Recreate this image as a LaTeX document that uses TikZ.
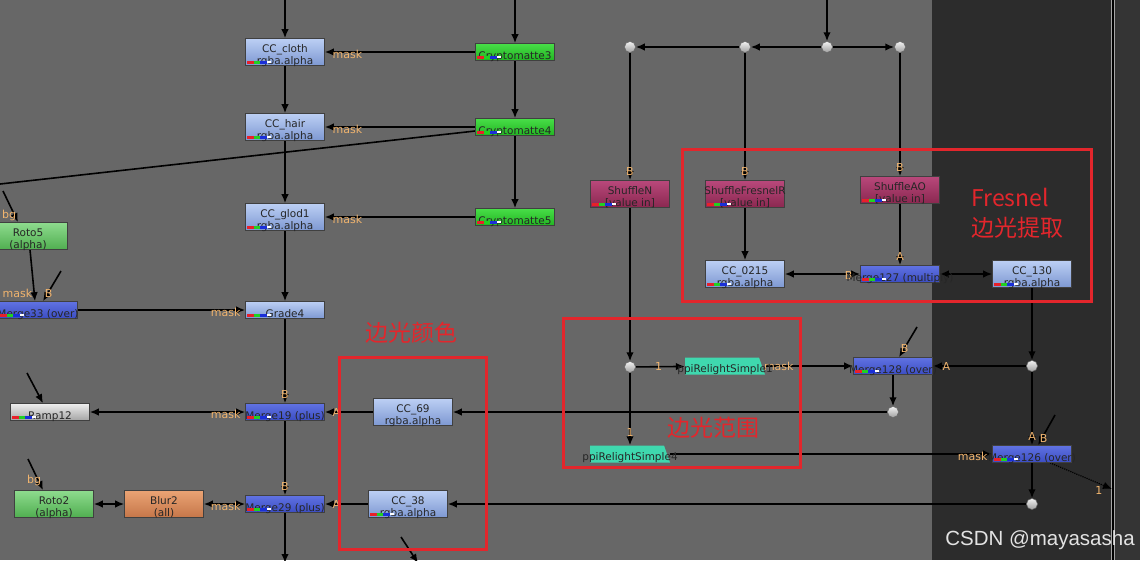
\documentclass[tikz,border=0pt]{standalone}
\usepackage{fontspec}
\setmainfont{DejaVu Sans}
\newfontfamily\cjkfont{Noto Sans CJK SC}
\newfontfamily\wmfont{Liberation Sans}
\usetikzlibrary{arrows.meta}

\pgfdeclarelayer{canvas}
\pgfdeclarelayer{wires}
\pgfsetlayers{canvas,wires,main}

\definecolor{canvasGray}{HTML}{676767}
\definecolor{canvasDark}{HTML}{2C2C2C}
\definecolor{stripDark}{HTML}{343434}
\definecolor{boxRed}{HTML}{E3262C}
\definecolor{lblOrange}{HTML}{F0B46E}
\definecolor{ccTop}{HTML}{BCCFF4}
\definecolor{ccBot}{HTML}{7D98D2}
\definecolor{mergeTop}{HTML}{6072E2}
\definecolor{mergeBot}{HTML}{3B4DC3}
\definecolor{cryptoTop}{HTML}{48DE48}
\definecolor{cryptoBot}{HTML}{22B422}
\definecolor{rotoTop}{HTML}{8EDB8E}
\definecolor{rotoBot}{HTML}{50AE50}
\definecolor{rampTop}{HTML}{EEEEEE}
\definecolor{rampBot}{HTML}{A4A4A4}
\definecolor{blurTop}{HTML}{EAA374}
\definecolor{blurBot}{HTML}{C57649}
\definecolor{shufTop}{HTML}{B9487B}
\definecolor{shufBot}{HTML}{8A2850}
\definecolor{relightCol}{HTML}{3FD8AE}
\definecolor{chRed}{HTML}{E8202A}
\definecolor{chGreen}{HTML}{22D022}
\definecolor{chBlue}{HTML}{1A2FD8}

\newcommand{\nkwide}[1]{\makebox[0pt]{#1}}

\tikzset{
  nkbox/.style={draw=black!75, line width=0.6pt, minimum width=79pt, inner sep=0pt,
    font=\fontsize{10.5}{11.5}\selectfont, text=black!85},
  tall/.style={nkbox, minimum height=27pt, align=center, text height=24pt, text depth=0pt},
  flat/.style={nkbox, minimum height=17pt, text height=15pt, text depth=0pt},
  ccnode/.style={top color=ccTop, bottom color=ccBot},
  mergenode/.style={top color=mergeTop, bottom color=mergeBot},
  cryptonode/.style={top color=cryptoTop, bottom color=cryptoBot},
  rotonode/.style={top color=rotoTop, bottom color=rotoBot},
  rampnode/.style={top color=rampTop, bottom color=rampBot},
  blurnode/.style={top color=blurTop, bottom color=blurBot},
  shufnode/.style={top color=shufTop, bottom color=shufBot},
  relight/.style={minimum width=80pt, minimum height=17pt, inner sep=0pt, path picture={
    \fill[relightCol] (path picture bounding box.south west) -- (path picture bounding box.north west)
      -- ([xshift=-6pt]path picture bounding box.north east) -- (path picture bounding box.south east) -- cycle;}},
  relightlbl/.style={anchor=base, inner sep=0pt, yshift=2pt, font=\fontsize{10.5}{11.5}\selectfont, text=black!85},
  nkdot/.style={circle, minimum size=11pt, inner sep=0pt, draw=black!60, line width=0.5pt,
    top color=gray!10, bottom color=gray!75},
  wire/.style={line width=1.6pt, -{Latex[length=9pt,width=7.5pt]}},
  both/.style={line width=1.6pt, {Latex[length=9pt,width=7.5pt]}-{Latex[length=9pt,width=7.5pt]}},
  plain/.style={line width=1.6pt},
  lbl/.style={font=\fontsize{11}{11}\selectfont, text=lblOrange, inner sep=1pt},
  masklbl/.style={lbl, yshift=-2pt},
  redbox/.style={draw=boxRed, line width=3pt},
  redtxt/.style={text=boxRed, inner sep=0pt, font=\cjkfont\fontsize{23}{26}\selectfont},
  wm/.style={text=white!78!gray, inner sep=0pt, font=\wmfont\fontsize{20.5}{22}\selectfont}
}

\begin{document}
\begin{tikzpicture}[x=1pt,y=-1pt]
\useasboundingbox (0,0) rectangle (1140,560);
\clip (0,0) rectangle (1140,560);
% canvas
\begin{pgfonlayer}{canvas}
\clip (0,0) rectangle (1140,560);
\fill[canvasGray] (0,0) rectangle (932,560);
\fill[canvasDark] (932,0) rectangle (1113,560);
\fill[stripDark] (1113,0) rectangle (1140,560);
\draw[gray!70, line width=0.6pt] (1111.5,0) -- (1111.5,560) (1114.5,0) -- (1114.5,560);
\draw[black, line width=1.2pt] (1113,0) -- (1113,560);
\end{pgfonlayer}

% left column
\node[tall,ccnode] (ccCloth) at (285,52) {CC\_cloth\\rgba.alpha};
\node[tall,ccnode] (ccHair) at (285,127) {CC\_hair\\rgba.alpha};
\node[tall,ccnode] (ccGlod) at (285,217) {CC\_glod1\\rgba.alpha};
\node[flat,ccnode] (grade4) at (285,310) {Grade4};
\node[flat,mergenode] (merge19) at (285,412) {\nkwide{Merge19 (plus)}};
\node[flat,mergenode] (merge29) at (285,504) {\nkwide{Merge29 (plus)}};
\node[flat,cryptonode] (crypto3) at (515,52) {Cryptomatte3};
\node[flat,cryptonode] (crypto4) at (515,127) {Cryptomatte4};
\node[flat,cryptonode] (crypto5) at (515,217) {Cryptomatte5};
\node[tall,rotonode] (roto5) at (28,236) {Roto5\\(alpha)};
\node[flat,mergenode] (merge33) at (38,310) {\nkwide{Merge33 (over)}};
\node[flat,rampnode] (ramp12) at (50,412) {Ramp12};
\node[tall,rotonode] (roto2) at (54,504) {Roto2\\(alpha)};
\node[tall,blurnode] (blur2) at (164,504) {Blur2\\(all)};
\node[tall,ccnode] (cc69) at (413,412) {CC\_69\\rgba.alpha};
\node[tall,ccnode] (cc38) at (408,504) {CC\_38\\rgba.alpha};

% right part
\node[tall,shufnode] (shufN) at (630,194) {ShuffleN\\{[value in]}};
\node[tall,shufnode] (shufFres) at (745,194) {\nkwide{ShuffleFresnelR}\\{[value in]}};
\node[tall,shufnode] (shufAO) at (900,190) {ShuffleAO\\{[value in]}};
\node[tall,ccnode] (cc0215) at (745,274) {CC\_0215\\rgba.alpha};
\node[flat,mergenode] (merge127) at (900,274) {\nkwide{Merge127 (multiply)}};
\node[tall,ccnode] (cc130) at (1032,274) {CC\_130\\rgba.alpha};
\node[relight,label={[relightlbl]south:ppiRelightSimple1}] (ppi1) at (725,366) {};
\node[relight,label={[relightlbl]south:ppiRelightSimple4}] (ppi4) at (630,454) {};
\node[flat,mergenode] (merge128) at (893,366) {\nkwide{Merge128 (over)}};
\node[flat,mergenode] (merge126) at (1032,454) {\nkwide{Merge126 (over)}};
\foreach \nm/\x/\y in {dotA/630/47,dotB/745/47,dotC/827/47,dotD/900/47,
    dotN/630/367,dotM/893/412,dotR/1032/366,dotS/1032/504}
  \node[nkdot] (\nm) at (\x,\y) {};

% channel marks
\foreach \n in {ccCloth,ccHair,ccGlod,grade4,merge19,merge29,crypto3,crypto4,crypto5,
    merge33,ramp12,cc38,shufN,shufFres,shufAO,cc0215,merge127,cc130,merge128,merge126}{
  \fill[chRed] ([shift={(2pt,2pt)}]\n.south west) rectangle ++(7pt,3pt);
  \fill[chGreen] ([shift={(9pt,2pt)}]\n.south west) rectangle ++(6pt,3pt);
  \fill[chBlue] ([shift={(15pt,2pt)}]\n.south west) rectangle ++(7pt,3pt);
  \fill[white] ([shift={(22pt,2.5pt)}]\n.south west) rectangle ++(4pt,2pt);
}

% free ends
\coordinate (inCloth) at (285,-2);
\coordinate (inCrypto) at (515,-2);
\coordinate (inTop) at (827,-2);
\coordinate (offLeft) at (0,184);
\coordinate (inRoto5) at (3,191);
\coordinate (inM33B) at (61,271);
\coordinate (inRamp) at (27,373);
\coordinate (inRoto2) at (28,459);
\coordinate (outMain) at (285,563);
\coordinate (inBelow) at (401,537);
\coordinate (outBelow) at (418,563);
\coordinate (inM128B) at (917,327);
\coordinate (inM126B) at (1055,415);
\coordinate (outM126) at (1112,489);

\begin{pgfonlayer}{wires}
\clip (0,0) rectangle (1140,560);
% wires, left
\draw[wire] (inCloth) -- (ccCloth);
\draw[wire] (ccCloth) -- (ccHair);
\draw[wire] (ccHair) -- (ccGlod);
\draw[wire] (ccGlod) -- (grade4);
\draw[wire] (grade4) -- node[lbl,at end,anchor=south,yshift=3pt]{B} (merge19);
\draw[wire] (merge19) -- node[lbl,at end,anchor=south,yshift=3pt]{B} (merge29);
\draw[wire] (merge29) -- (outMain);
\draw[wire] (inCrypto) -- (crypto3);
\draw[wire] (crypto3) -- (crypto4);
\draw[wire] (crypto4) -- (crypto5);
\foreach \src/\dst in {crypto3/ccCloth,crypto4/ccHair,crypto5/ccGlod}
  \draw[wire] (\src) -- node[masklbl,at end,anchor=west,xshift=6pt]{mask} (\dst);
\draw[plain] ([yshift=-4pt]crypto4.west) -- (offLeft);
\draw[wire] (inRoto5) -- node[lbl,at end,anchor=south east]{bg} ([xshift=-10pt]roto5.north);
\draw[wire] ([xshift=2pt]roto5.south) -- node[lbl,at end,anchor=south east,xshift=-1pt,yshift=2pt]{mask} ([xshift=-3pt]merge33.north);
\draw[wire] (inM33B) -- node[lbl,at end,anchor=south west,yshift=2pt]{B} ([xshift=5pt]merge33.north);
\draw[wire] (merge33) -- node[masklbl,at end,anchor=east,xshift=-3pt]{mask} (grade4);
\draw[wire] (inRamp) -- ([xshift=-7pt]ramp12.north);
\draw[both] (ramp12) -- node[masklbl,at end,anchor=east,xshift=-3pt]{mask} (merge19);
\draw[wire] (inRoto2) -- node[lbl,at end,anchor=south east,yshift=3pt]{bg} ([xshift=-11pt]roto2.north);
\draw[both] (roto2) -- (blur2);
\draw[both] (blur2) -- node[masklbl,at end,anchor=east,xshift=-3pt]{mask} (merge29);
\draw[wire] (cc69) -- node[lbl,at end,anchor=west,xshift=6pt]{A} (merge19);
\draw[wire] (cc38) -- node[lbl,at end,anchor=west,xshift=6pt]{A} (merge29);
\draw[wire] (inBelow) -- (outBelow);

% wires, right
\draw[wire] (inTop) -- (dotC);
\draw[wire] (dotC) -- (dotB);
\draw[wire] (dotB) -- (dotA);
\draw[wire] (dotC) -- (dotD);
\foreach \src/\dst in {dotA/shufN,dotB/shufFres,dotD/shufAO}
  \draw[wire] (\src) -- node[lbl,at end,anchor=south,yshift=3pt]{B} (\dst);
\draw[wire] (shufFres) -- (cc0215);
\draw[wire] (shufAO) -- node[lbl,at end,anchor=south,yshift=3pt]{A} (merge127);
\draw[both] (cc0215) -- node[lbl,at end,anchor=east,xshift=-6pt,yshift=-1pt]{B} (merge127);
\draw[both] (merge127) -- (cc130);
\draw[wire] (cc130) -- (dotR);
\draw[wire] (dotR) -- node[lbl,at end,anchor=west,xshift=8pt]{A} (merge128);
\draw[wire] (inM128B) -- node[lbl,at end,anchor=south west,yshift=3pt]{B} ([xshift=6pt]merge128.north);
\draw[wire] (merge128) -- (dotM);
\draw[wire] (dotM) -- (cc69);
\draw[wire] (shufN) -- (dotN);
\draw[wire] (dotN) -- node[lbl,at end,anchor=east,xshift=-21pt]{1} (ppi1);
\draw[wire] (dotN) -- node[lbl,at end,anchor=south,yshift=7pt]{1} (ppi4);
\draw[wire] (ppi1) -- node[lbl,at start,anchor=west,xshift=-3pt]{mask} (merge128);
\draw[wire] (ppi4) -- node[masklbl,at end,anchor=east,xshift=-3pt]{mask} (merge126);
\draw[wire] (dotR) -- node[lbl,at end,anchor=south,yshift=3pt]{A} (merge126);
\draw[wire] (inM126B) -- node[lbl,at end,anchor=south west,yshift=1pt]{B} ([xshift=6pt]merge126.north);
\draw[wire] (merge126) -- (dotS);
\draw[wire] (dotS) -- (cc38);
\draw[line width=1.2pt, densely dotted, -{Latex[length=9pt,width=7.5pt]}] ([xshift=18pt]merge126.south)
  -- node[lbl,at end,anchor=east,xshift=-8pt,yshift=-1pt]{1} (outM126);
\end{pgfonlayer}

% red frames and notes
\draw[redbox] (682,149) rectangle (1091,301);
\draw[redbox] (339,357) rectangle (486,549);
\draw[redbox] (563,318) rectangle (800,467);
\node[redtxt] (tFresnel) at (1010,197) {Fresnel};
\node[redtxt] (tFresnelCn) at (1017,228) {边光提取};
\node[redtxt] (tColour) at (411,333) {边光颜色};
\node[redtxt] (tRange) at (713,428) {边光范围};
\node[wm] (wmark) at (1040,540) {CSDN @mayasasha};
\end{tikzpicture}
\end{document}
